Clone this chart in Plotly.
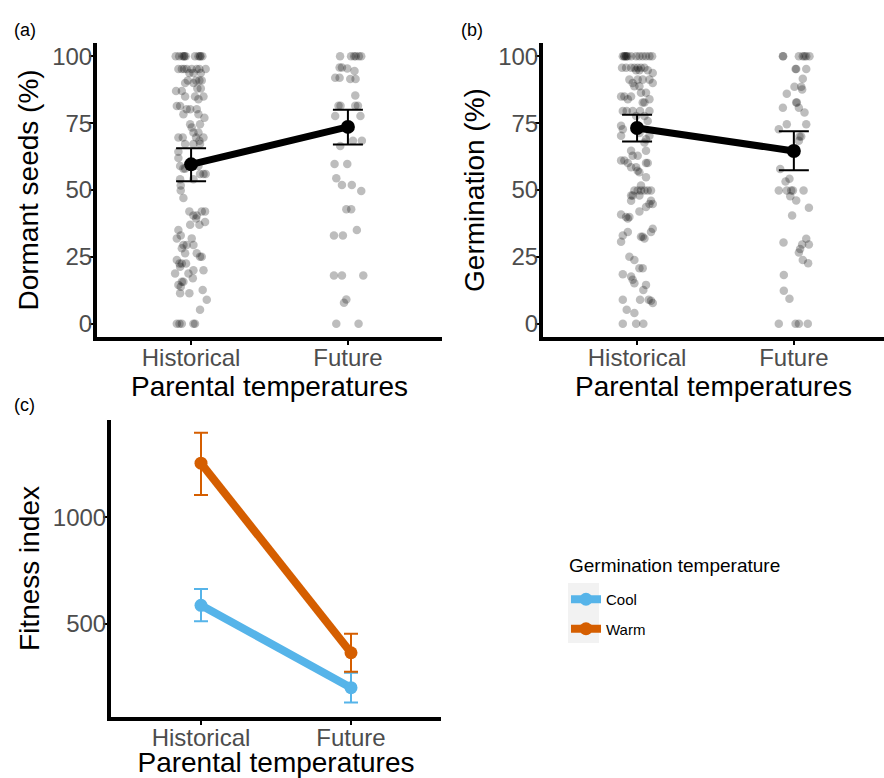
import plotly.graph_objects as go

# ---------------- data ----------------
parental = ["Historical", "Future"]

# Panel (a): dormant seeds (%) -- rows of (value, jitter offsets)
a_hist_rows = [
    (100, [-0.098, -0.076, -0.055, -0.045, -0.043, -0.034, 0.025, 0.047, 0.057, 0.060, 0.072]),
    (95.3, [-0.081, -0.059, -0.045, -0.028, 0.004, 0.036, 0.053, 0.093]),
    (93.8, [-0.011, 0.015, 0.062]),
    (91, [-0.021, 0.032, 0.053, 0.068]),
    (90, [-0.038, 0.015]),
    (88, [0.040, 0.062]),
    (87, [-0.096, -0.059]),
    (85, [-0.038, 0.025, 0.079]),
    (84, [0.047]),
    (81.4, [-0.091, -0.070]),
    (80.2, [-0.028, -0.006, 0.036]),
    (78.3, [-0.049, 0.047]),
    (77, [0.085]),
    (74.6, [-0.006, 0.057]),
    (73.4, [0.004]),
    (71.5, [0.015, 0.047]),
    (69.6, [-0.081, -0.053, 0.032, 0.079]),
    (68.4, [0.053]),
    (67.2, [-0.038, 0.015, 0.057]),
    (64.3, [-0.081]),
    (62, [-0.081]),
    (59, [-0.070, 0.047]),
    (58, [-0.049, -0.038]),
    (56, [0.057, 0.079, 0.093]),
    (54, [-0.070, 0.015]),
    (51.7, [-0.066]),
    (49.8, [-0.066]),
    (47, [-0.049]),
    (42, [-0.011, 0.068, 0.089]),
    (40.5, [0.015, 0.036]),
    (39.3, [0.032]),
    (38, [0.089]),
    (37, [-0.006, 0.053]),
    (35, [-0.081]),
    (33, [-0.066]),
    (31.9, [-0.091, 0.004]),
    (29.4, [-0.049, -0.028, 0.015]),
    (28.2, [-0.059]),
    (26.3, [-0.038, 0.036]),
    (25, [0.057, 0.068]),
    (23.8, [-0.091]),
    (22.5, [-0.074, -0.059, -0.032]),
    (21.3, [-0.070]),
    (20, [0.015, 0.079]),
    (18.8, [-0.102, -0.017]),
    (17, [0.011]),
    (15.7, [-0.059, -0.049]),
    (14.5, [-0.081]),
    (13.8, [-0.066]),
    (12.6, [0.074]),
    (11.4, [-0.070, -0.011]),
    (8.9, [0.100]),
    (5.2, [0.057]),
    (0, [-0.091, -0.074, -0.059, 0.015, 0.025]),
]
a_fut_rows = [
    (100, [-0.050, 0.020, 0.040, 0.050, 0.070, 0.085]),
    (95.8, [-0.053, -0.038]),
    (95.5, [-0.004]),
    (94.5, [0.042]),
    (92, [-0.081, -0.053]),
    (91.5, [0.015, 0.049]),
    (85.4, [0.047]),
    (81.5, [-0.060, -0.047, 0.047, 0.064]),
    (77.7, [-0.081, 0.080]),
    (68.4, [0.032, 0.089]),
    (66.5, [-0.049]),
    (59.7, [-0.085, -0.004]),
    (54.4, [-0.074]),
    (51.9, [-0.038, 0.025]),
    (49.6, [0.085]),
    (42.8, [-0.010, 0.021]),
    (35, [0.057]),
    (33, [-0.089, -0.032]),
    (18, [-0.089, -0.038, 0.098]),
    (9, [-0.010]),
    (7.8, [-0.025]),
    (0, [-0.074, 0.068]),
]
a_mean = [59.6, 73.6]
a_upper = [65.6, 80.0]
a_lower = [53.3, 67.0]

# Panel (b): germination (%)
b_hist_rows = [
    (100, [-0.091, -0.081, -0.080, -0.070, -0.068, -0.059, -0.038, -0.006, 0.015, 0.036, 0.057, 0.079, 0.096]),
    (95.7, [-0.096, -0.070, -0.038, -0.017, 0.004, 0.025, 0.047]),
    (94.8, [-0.006, 0.015, 0.068]),
    (93.8, [0.100]),
    (91.3, [-0.049, 0.004, 0.036, 0.079]),
    (90, [-0.028, 0.100]),
    (88.8, [-0.017, 0.015]),
    (86.4, [0.025, 0.057]),
    (85, [-0.102, -0.081, -0.038]),
    (84, [-0.059, 0.079]),
    (82.7, [0.036, 0.047]),
    (79.6, [-0.091, -0.066, -0.028, 0.019, 0.079]),
    (77.7, [-0.006, 0.047]),
    (75.8, [0.068]),
    (74, [-0.102]),
    (72.7, [-0.091]),
    (71.3, [0.015]),
    (70.3, [-0.102, 0.079]),
    (69, [0.057]),
    (67.8, [0.047]),
    (64.7, [-0.038, 0.057]),
    (62.8, [-0.028, 0.004]),
    (61, [-0.102, -0.081]),
    (60.1, [-0.059, 0.057, 0.068]),
    (58.5, [-0.038, -0.006]),
    (57.2, [0.004]),
    (56.6, [0.015]),
    (54.8, [0.057]),
    (51.7, [0.025]),
    (49.8, [-0.017, 0.004, 0.025, 0.047, 0.068, 0.089]),
    (47.9, [-0.038, -0.028, 0.015]),
    (46, [-0.038, 0.089]),
    (44.8, [0.079, 0.100]),
    (43.6, [0.057]),
    (42, [0.015]),
    (40.8, [-0.102]),
    (39.9, [-0.070, -0.049]),
    (39.3, [-0.059]),
    (35.5, [0.100]),
    (34.3, [-0.059, 0.089]),
    (33, [-0.091]),
    (32.5, [0.025, 0.036]),
    (31.9, [0.047]),
    (30.6, [-0.102]),
    (25, [-0.049]),
    (23.8, [-0.017]),
    (20.7, [0.015, 0.036]),
    (18.5, [-0.091]),
    (17.6, [-0.038]),
    (16.4, [-0.028]),
    (15.1, [-0.017]),
    (14.5, [0.057]),
    (12.6, [0.040]),
    (8.9, [-0.091, 0.019, 0.074]),
    (8.6, [0.089]),
    (7.7, [0.100]),
    (5.2, [-0.066]),
    (4, [-0.017]),
    (0, [-0.091, -0.006, 0.040]),
]
b_fut_rows = [
    (100, [-0.070, -0.068, 0.032, 0.057, 0.068, 0.079, 0.100]),
    (95.3, [0.011, 0.015, 0.079]),
    (91.6, [0.057]),
    (88.6, [0.004, 0.047]),
    (87.6, [0.053]),
    (86, [-0.045]),
    (82.7, [0.015, 0.019]),
    (80.8, [-0.070, 0.032]),
    (79, [0.068]),
    (74.6, [-0.045, 0.079]),
    (72.7, [-0.096]),
    (70, [0.036, 0.047]),
    (68.4, [0.032]),
    (57.9, [-0.087]),
    (54.2, [-0.028]),
    (53.2, [-0.053]),
    (49.8, [-0.096, -0.045, -0.017, -0.006, 0.062]),
    (47.7, [-0.023]),
    (46.1, [0.015]),
    (43.4, [0.096]),
    (40.5, [-0.011]),
    (31.8, [0.079]),
    (30.4, [-0.066]),
    (29.6, [0.053, 0.096]),
    (27.9, [0.040]),
    (26.6, [0.032]),
    (23.8, [0.057]),
    (22.6, [0.091]),
    (18.2, [-0.064]),
    (12.3, [-0.064]),
    (9.3, [-0.028]),
    (0, [-0.096, 0.011, 0.032, 0.089]),
]
b_mean = [73.2, 64.6]
b_upper = [78.2, 72.0]
b_lower = [68.1, 57.4]

# Panel (c): fitness index
germ_temps = ["Cool", "Warm"]
c_mean = {"Cool": [587, 200], "Warm": [1255, 364]}
c_upper = {"Cool": [664, 270], "Warm": [1398, 453]}
c_lower = {"Cool": [512, 130], "Warm": [1106, 275]}
c_colors = {"Cool": "#56B4E9", "Warm": "#D55E00"}

# ---------------- figure ----------------
W, H = 884, 778
FONT = "Liberation Sans, Arial, Helvetica, sans-serif"
pos = [1, 2]


def expand(rows, center):
    xs, ys = [], []
    for val, offs in rows:
        for o in offs:
            xs.append(center + o)
            ys.append(val)
    return xs, ys


fig = go.Figure()

pt_marker = dict(size=8.5, color="rgba(0,0,0,0.26)", line=dict(width=0))

for rows_h, rows_f, mean, up, lo, xa, ya in [
    (a_hist_rows, a_fut_rows, a_mean, a_upper, a_lower, "x", "y"),
    (b_hist_rows, b_fut_rows, b_mean, b_upper, b_lower, "x2", "y2"),
]:
    for rows, c in [(rows_h, pos[0]), (rows_f, pos[1])]:
        xs, ys = expand(rows, c)
        fig.add_trace(go.Scatter(x=xs, y=ys, mode="markers", marker=pt_marker,
                                 xaxis=xa, yaxis=ya, showlegend=False, hoverinfo="skip"))
    fig.add_trace(go.Scatter(
        x=pos, y=mean, mode="lines+markers",
        line=dict(color="black", width=7),
        marker=dict(size=14, color="black"),
        error_y=dict(type="data", symmetric=False,
                     array=[u - m for u, m in zip(up, mean)],
                     arrayminus=[m - l for m, l in zip(mean, lo)],
                     color="black", thickness=2, width=15),
        xaxis=xa, yaxis=ya, showlegend=False))

for g in germ_temps:
    m = c_mean[g]
    fig.add_trace(go.Scatter(
        x=pos, y=m, mode="lines+markers", name=g, legendgroup=g,
        line=dict(color=c_colors[g], width=8),
        marker=dict(size=13, color=c_colors[g]),
        error_y=dict(type="data", symmetric=False,
                     array=[u - v for u, v in zip(c_upper[g], m)],
                     arrayminus=[v - l for v, l in zip(m, c_lower[g])],
                     color=c_colors[g], thickness=2, width=7),
        xaxis="x3", yaxis="y3", showlegend=True))


def xax(domain, rng, anchor):
    return dict(domain=domain, range=rng, anchor=anchor, tickmode="array",
                tickvals=pos, ticktext=parental, showline=True, linecolor="black",
                linewidth=4, ticks="outside", ticklen=4, tickwidth=2, tickcolor="black",
                ticklabelstandoff=-8,
                showgrid=False, zeroline=False,
                tickfont=dict(size=24, color="#4D4D4D", family=FONT),
                title=dict(text="Parental temperatures", font=dict(size=28, color="black", family=FONT),
                           standoff=1))


def yax(domain, rng, anchor, title, tickvals):
    return dict(domain=domain, range=rng, anchor=anchor, tickmode="array",
                tickvals=tickvals, showline=True, linecolor="black",
                linewidth=4, ticks="outside", ticklen=4, tickwidth=2, tickcolor="black",
                ticklabelstandoff=-8,
                showgrid=False, zeroline=False,
                tickfont=dict(size=24, color="#4D4D4D", family=FONT),
                title=dict(text=title, font=dict(size=28, color="black", family=FONT),
                           standoff=6))


top_dom = [1 - 337 / H, 1 - 43 / H]
fig.update_layout(
    width=W, height=H,
    margin=dict(l=0, r=0, t=0, b=0),
    paper_bgcolor="white", plot_bgcolor="white",
    font=dict(family=FONT, color="black"),
    xaxis=xax([97 / W, 442 / W], [0.4, 2.6], "y"),
    yaxis=yax(top_dom, [-5, 105], "x", "Dormant seeds (%)", [0, 25, 50, 75, 100]),
    xaxis2=xax([543 / W, 1.0], [0.4, 2.575], "y2"),
    yaxis2=yax(top_dom, [-5, 105], "x2", "Germination (%)", [0, 25, 50, 75, 100]),
    xaxis3=xax([111 / W, 441 / W], [0.4, 2.6], "y3"),
    yaxis3=yax([1 - 717 / H, 1 - 420 / H], [62, 1458], "x3", "Fitness index", [500, 1000]),
    legend=dict(x=566 / W, y=1 - 583 / H, xanchor="left", yanchor="top",
                font=dict(size=15, family=FONT), bgcolor="rgba(0,0,0,0)",
                itemwidth=30, tracegroupgap=7),
    shapes=[dict(type="rect", xref="paper", yref="paper",
                 x0=568 / W, x1=599 / W, y0=1 - 643 / H, y1=1 - 583 / H,
                 fillcolor="#F2F2F2", line=dict(width=0), layer="below")],
    annotations=[
        dict(text="(a)", x=12 / W, y=1 - 30 / H, xref="paper", yref="paper",
             xanchor="left", yanchor="middle", showarrow=False, font=dict(size=18, family=FONT)),
        dict(text="(b)", x=459 / W, y=1 - 30 / H, xref="paper", yref="paper",
             xanchor="left", yanchor="middle", showarrow=False, font=dict(size=18, family=FONT)),
        dict(text="(c)", x=12 / W, y=1 - 405 / H, xref="paper", yref="paper",
             xanchor="left", yanchor="middle", showarrow=False, font=dict(size=18, family=FONT)),
        dict(text="Germination temperature", x=567 / W, y=1 - 565 / H, xref="paper", yref="paper",
             xanchor="left", yanchor="middle", showarrow=False, font=dict(size=19, family=FONT)),
    ],
)

fig.write_html("out.html", config={"displayModeBar": False},
               post_script="document.body.style.margin='0';")
